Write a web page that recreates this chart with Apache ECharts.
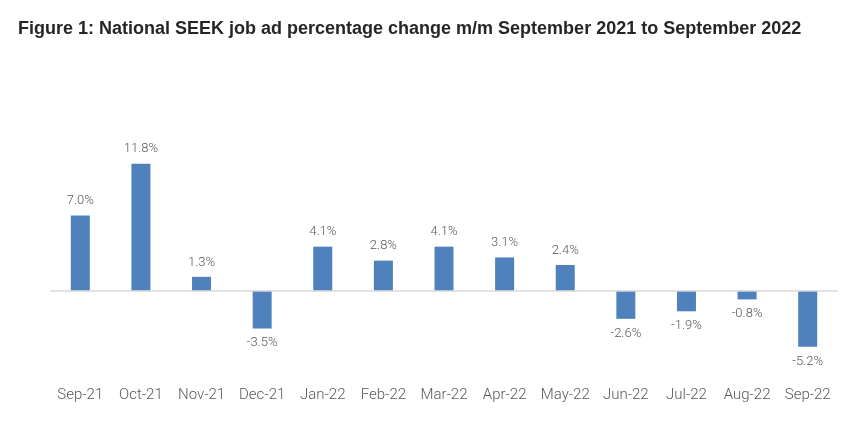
<!DOCTYPE html>
<html>
<head>
<meta charset="utf-8">
<script src="https://cdn.jsdelivr.net/npm/echarts@6/dist/echarts.min.js"></script>
<style>
  html, body { margin: 0; padding: 0; background: #fff; }
  #chart { width: 847px; height: 425px; }
</style>
</head>
<body>
<div id="chart"></div>
<script>
// 月份与环比变化(%)
const months = ['Sep-21', 'Oct-21', 'Nov-21', 'Dec-21', 'Jan-22', 'Feb-22', 'Mar-22',
  'Apr-22', 'May-22', 'Jun-22', 'Jul-22', 'Aug-22', 'Sep-22'];
const changes = [7.0, 11.8, 1.3, -3.5, 4.1, 2.8, 4.1, 3.1, 2.4, -2.6, -1.9, -0.8, -5.2];

const titleText = 'Figure 1: National SEEK job ad percentage change m/m September 2021 to September 2022';

const myChart = echarts.init(document.getElementById('chart'));
myChart.setOption({
  animation: false,
  title: {
    text: titleText,
    left: 13,
    top: 15,
    textStyle: { fontFamily: 'Liberation Sans', fontWeight: 'bold', fontSize: 18, color: '#262626' }
  },
  grid: { left: 50, right: 9, top: 140, bottom: 48 },
  xAxis: {
    type: 'category',
    data: months,
    axisLine: { show: false, onZero: false },
    axisTick: { show: false },
    axisLabel: { interval: 0, fontFamily: 'Roboto', fontWeight: 300, fontSize: 15, color: '#595959', margin: 11 }
  },
  yAxis: {
    type: 'value',
    min: -8,
    max: 14,
    show: false,
    splitLine: { show: false }
  },
  series: [{
    type: 'bar',
    data: changes.map(v => ({
      value: v,
      label: { position: v >= 0 ? 'top' : 'bottom' }
    })),
    barWidth: 19,
    itemStyle: { color: '#4f81bd' },
    label: {
      show: true,
      distance: 8,
      fontFamily: 'Roboto',
      fontWeight: 300,
      fontSize: 13,
      color: '#595959',
      formatter: p => p.value.toFixed(1) + '%'
    },
    // 零线
    markLine: {
      silent: true,
      symbol: 'none',
      label: { show: false },
      lineStyle: { color: '#d9d9d9', width: 1.5, type: 'solid' },
      data: [{ yAxis: 0 }]
    },
    z: 3
  }]
});
window.addEventListener('resize', () => myChart.resize());
</script>
</body>
</html>
